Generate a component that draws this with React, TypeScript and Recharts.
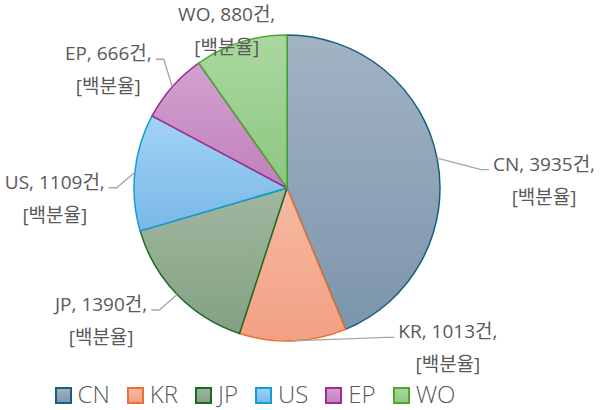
import { PieChart, Pie, Cell, Legend } from 'recharts';

const categories = ['CN', 'KR', 'JP', 'US', 'EP', 'WO'];
const counts = [3935, 1013, 1390, 1109, 666, 880];
const unitLabel = '건';
const pctLabel = '[백분율]';

const strokeColors = ['#156082', '#E97132', '#196B24', '#0F9ED5', '#A02B93', '#4EA72E'];
const topColors = ['#a2b3c3', '#f6baa3', '#9fb79f', '#a3d2f5', '#d2a2cf', '#aad8a0'];
const bottomColors = ['#7c95ac', '#f2a083', '#84a184', '#78b8e8', '#c080bc', '#8cc77f'];

// label block centre, offset from the slice's outer edge at its mid angle
const labelNudge = [
  [107, 22],
  [155, 7],
  [-76, 26],
  [-80, 26],
  [-64, -17],
  [-14, -12],
];
const showLeader = [true, true, true, true, true, false];

const data = categories.map((name, i) => ({ name, value: counts[i] }));

const RAD = Math.PI / 180;
const LABEL_FONT = '19px "Open Sans", "Noto Sans CJK KR", sans-serif';
const TEXT_COLOR = '#595959';

let ctx: CanvasRenderingContext2D | null = null;
function textWidth(s: string) {
  if (!ctx) ctx = document.createElement('canvas').getContext('2d');
  if (!ctx) return s.length * 9;
  ctx.font = LABEL_FONT;
  return ctx.measureText(s).width;
}

function renderLabel(props: any) {
  const { cx, cy, midAngle, outerRadius, index, name, value } = props;
  const ex = cx + outerRadius * Math.cos(-midAngle * RAD);
  const ey = cy + outerRadius * Math.sin(-midAngle * RAD);
  const [dx, dy] = labelNudge[index];
  const tx = ex + dx;
  const ty = ey + dy;
  const line1 = `${name}, ${value}${unitLabel},`;
  const w = textWidth(line1);
  const y1 = ty - 16.5;
  const y2 = ty + 16.5;
  const right = dx > 0;
  const endX = right ? tx - w / 2 - 4 : tx + w / 2 + 4;
  const endY = y1 + 6;
  const elbowX = right ? endX - 8 : endX + 8;
  return (
    <g>
      {showLeader[index] && (
        <polyline
          points={`${ex},${ey} ${elbowX},${endY} ${endX},${endY}`}
          fill="none"
          stroke="#a6a6a6"
          strokeWidth={1.3}
        />
      )}
      <text
        textAnchor="middle"
        dominantBaseline="central"
        fill={TEXT_COLOR}
        style={{ font: LABEL_FONT }}
      >
        <tspan x={tx} y={y1}>{line1}</tspan>
        <tspan x={tx} y={y2}>{pctLabel}</tspan>
      </text>
    </g>
  );
}

function LegendContent() {
  return (
    <div
      style={{
        display: 'flex',
        justifyContent: 'center',
        alignItems: 'center',
        gap: 17,
        fontFamily: '"Open Sans", sans-serif',
        fontWeight: 300,
        fontSize: 24,
        color: TEXT_COLOR,
        lineHeight: 'normal',
      }}
    >
      {categories.map((c, i) => (
        <div key={c} style={{ display: 'flex', alignItems: 'center', gap: 6 }}>
          <svg width={17} height={17} style={{ marginTop: 3 }}>
            <rect
              x={1}
              y={1}
              width={15}
              height={15}
              fill={`url(#lg${i})`}
              stroke={strokeColors[i]}
              strokeWidth={2}
            />
          </svg>
          <span>{c}</span>
        </div>
      ))}
    </div>
  );
}

export default function App() {
  return (
    <div style={{ position: 'absolute', left: 0, top: 0, width: 600, height: 410, background: '#fff' }}>
      <PieChart width={600} height={410} margin={{ top: 0, right: 0, bottom: 0, left: 0 }}>
        <defs>
          {categories.map((c, i) => (
            <linearGradient key={c} id={`g${i}`} x1="0" y1="0" x2="0" y2="1">
              <stop offset="0%" stopColor={topColors[i]} />
              <stop offset="100%" stopColor={bottomColors[i]} />
            </linearGradient>
          ))}
        </defs>
        <Pie
          data={data}
          dataKey="value"
          nameKey="name"
          cx={287}
          cy={188}
          outerRadius={153}
          startAngle={90}
          endAngle={-270}
          label={renderLabel}
          labelLine={false}
          isAnimationActive={false}
        >
          {data.map((d, i) => (
            <Cell key={d.name} fill={`url(#g${i})`} stroke={strokeColors[i]} strokeWidth={1.5} />
          ))}
        </Pie>
        <Legend
          content={<LegendContent />}
          wrapperStyle={{ position: 'absolute', left: 0, top: 377, width: 510 }}
        />
      </PieChart>
      <svg width={0} height={0} style={{ position: 'absolute' }}>
        <defs>
          {categories.map((c, i) => (
            <linearGradient key={c} id={`lg${i}`} x1="0" y1="0" x2="0" y2="1">
              <stop offset="0%" stopColor={topColors[i]} />
              <stop offset="100%" stopColor={bottomColors[i]} />
            </linearGradient>
          ))}
        </defs>
      </svg>
    </div>
  );
}
